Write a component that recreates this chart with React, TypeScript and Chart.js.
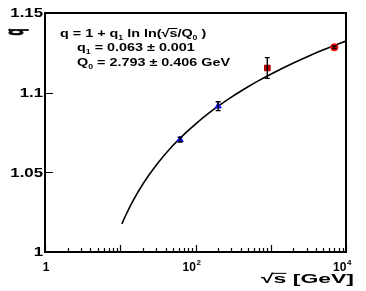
import React, { useEffect, useRef } from "react";
import { Chart, registerables } from "chart.js";

Chart.register(...registerables);

// ---- data ----
const energies = [62.4, 200, 900, 7000];
const qValues = [1.0705, 1.0915, 1.1155, 1.1285];
const qErrors = [0.0015, 0.0028, 0.0065, 0.0008];

const curveEnergies = [10.5, 12, 15, 20, 30, 50, 70, 100, 150, 200, 300, 500, 700, 1000, 2000, 3000, 5000, 7000, 10000];
const curveQ = [1.0177, 1.0237, 1.0327, 1.0427, 1.0545, 1.0668, 1.0737, 1.0803, 1.0871, 1.0915, 1.0972, 1.1037, 1.1077, 1.1116, 1.1186, 1.1224, 1.1269, 1.1296, 1.1324];

const yTickValues = [1, 1.05, 1.1, 1.15];
const yTickLabels = ["1", "1.05", "1.1", "1.15"];
const xMajorValues = [1, 10, 100, 1000, 10000];
const xLabelValues = [1, 100, 10000];
const xLabelBases = ["1", "10", "10"];
const xLabelExps = ["", "2", "4"];

const FONT = "'Liberation Sans', Arial, Helvetica, sans-serif";

type Seg = { t: string; sub?: boolean; over?: boolean };

function drawSegs(ctx: CanvasRenderingContext2D, segs: Seg[], x: number, y: number, size: number) {
  let cx = x;
  for (const s of segs) {
    const fs = s.sub ? Math.round(size * 0.62) : size;
    ctx.font = `bold ${fs}px ${FONT}`;
    const w = ctx.measureText(s.t).width;
    ctx.fillText(s.t, cx, s.sub ? y + size * 0.25 : y);
    if (s.over) {
      ctx.fillRect(cx - 0.5, y - size * 0.78, w + 0.5, 1);
    }
    cx += w;
  }
}

const decorPlugin = {
  id: "decor",
  afterDatasetsDraw(chart: any) {
    const ctx: CanvasRenderingContext2D = chart.ctx;
    const xs = chart.scales.x;
    const ys = chart.scales.y;
    ctx.save();
    ctx.strokeStyle = "#000";
    ctx.lineWidth = 1.4;
    for (let i = 0; i < energies.length; i++) {
      const px = xs.getPixelForValue(energies[i]);
      const y1 = ys.getPixelForValue(qValues[i] + qErrors[i]);
      const y2 = ys.getPixelForValue(qValues[i] - qErrors[i]);
      ctx.beginPath();
      ctx.moveTo(px, y1);
      ctx.lineTo(px, y2);
      ctx.moveTo(px - 2.5, y1);
      ctx.lineTo(px + 2.5, y1);
      ctx.moveTo(px - 2.5, y2);
      ctx.lineTo(px + 2.5, y2);
      ctx.stroke();
    }
    ctx.restore();
  },
  afterDraw(chart: any) {
    const ctx: CanvasRenderingContext2D = chart.ctx;
    const xs = chart.scales.x;
    const ys = chart.scales.y;
    const { left, right, top, bottom } = chart.chartArea;
    ctx.save();
    ctx.fillStyle = "#000";
    ctx.strokeStyle = "#000";

    // frame
    ctx.lineWidth = 2;
    ctx.strokeRect(left, top, right - left, bottom - top);

    // y ticks (inward)
    ctx.lineWidth = 1.2;
    ctx.beginPath();
    for (const v of yTickValues) {
      const py = Math.round(ys.getPixelForValue(v)) + 0.5;
      ctx.moveTo(left, py);
      ctx.lineTo(left + 8, py);
    }
    // x ticks (inward) major + minor
    for (let d = 0; d < xMajorValues.length; d++) {
      const base = xMajorValues[d];
      const px = Math.round(xs.getPixelForValue(base)) + 0.5;
      ctx.moveTo(px, bottom);
      ctx.lineTo(px, bottom - 7);
      if (d < xMajorValues.length - 1) {
        for (let m = 2; m <= 9; m++) {
          const mx = Math.round(xs.getPixelForValue(base * m)) + 0.5;
          ctx.moveTo(mx, bottom);
          ctx.lineTo(mx, bottom - 4);
        }
      }
    }
    ctx.stroke();

    // y tick labels
    ctx.textAlign = "right";
    ctx.textBaseline = "middle";
    for (let i = 0; i < yTickValues.length; i++) {
      const py = ys.getPixelForValue(yTickValues[i]);
      ctx.save();
      ctx.font = `bold 12px ${FONT}`;
      ctx.translate(left - 2, py + 1);
      ctx.scale(1.4, 1);
      ctx.fillText(yTickLabels[i], 0, 0);
      ctx.restore();
    }

    // x tick labels with exponents
    ctx.textAlign = "left";
    ctx.textBaseline = "alphabetic";
    for (let i = 0; i < xLabelValues.length; i++) {
      const px = xs.getPixelForValue(xLabelValues[i]);
      ctx.font = `bold 12px ${FONT}`;
      const wb = ctx.measureText(xLabelBases[i]).width;
      ctx.font = `bold 8px ${FONT}`;
      const we = xLabelExps[i] ? ctx.measureText(xLabelExps[i]).width : 0;
      const total = wb + we;
      const shift = xLabelExps[i] ? -4 : 1;
      const x0 = px - total / 2 + shift;
      ctx.font = `bold 12px ${FONT}`;
      ctx.fillText(xLabelBases[i], x0, bottom + 19);
      if (xLabelExps[i]) {
        ctx.font = `bold 8px ${FONT}`;
        ctx.fillText(xLabelExps[i], x0 + wb + 0.5, bottom + 13);
      }
    }

    // x title
    ctx.save();
    ctx.font = `bold 13px ${FONT}`;
    const segsX: Seg[] = [{ t: "√" }, { t: "s", over: true }, { t: " [GeV]" }];
    let wX = 0;
    for (const s of segsX) wX += ctx.measureText(s.t).width;
    const sx = 93 / wX;
    ctx.translate(261, bottom + 31);
    ctx.scale(sx, 1);
    drawSegs(ctx, segsX, 0, 0, 13);
    ctx.restore();

    // y title (rotated q)
    ctx.save();
    ctx.font = `bold 26px ${FONT}`;
    ctx.translate(18.5, 32);
    ctx.rotate(-Math.PI / 2);
    ctx.scale(0.45, 1);
    ctx.textAlign = "center";
    ctx.lineWidth = 1.2;
    ctx.fillText("q", 0, 4);
    ctx.strokeText("q", 0, 4);
    ctx.restore();

    // fit annotation
    ctx.textAlign = "left";
    const ann: [Seg[], number, number][] = [
      [[{ t: "q = 1 + q" }, { t: "1", sub: true }, { t: " ln ln(√" }, { t: "s", over: true }, { t: "/Q" }, { t: "0", sub: true }, { t: " )" }], 60, 37],
      [[{ t: "q" }, { t: "1", sub: true }, { t: " = 0.063 ± 0.001" }], 77, 51],
      [[{ t: "Q" }, { t: "0", sub: true }, { t: " = 2.793 ± 0.406 GeV" }], 77, 66],
    ];
    for (const [segs, ax, ay] of ann) {
      ctx.save();
      ctx.translate(ax, ay);
      ctx.scale(1.25, 1);
      drawSegs(ctx, segs, 0, 0, 11.5);
      ctx.restore();
    }

    ctx.restore();
  },
};

export default function App() {
  const ref = useRef<HTMLCanvasElement | null>(null);
  useEffect(() => {
    if (!ref.current) return;
    const pts = (i: number) => [{ x: energies[i], y: qValues[i] }];
    const chart = new Chart(ref.current, {
      type: "scatter",
      data: {
        datasets: [
          {
            type: "line",
            label: "fit",
            data: curveEnergies.map((x, i) => ({ x, y: curveQ[i] })),
            borderColor: "#000",
            borderWidth: 1.6,
            pointRadius: 0,
            cubicInterpolationMode: "monotone",
            fill: false,
            order: 2,
          } as any,
          {
            label: "62.4 & 200 GeV",
            data: [pts(0)[0], pts(1)[0]],
            pointStyle: "triangle",
            pointRadius: 3.6,
            backgroundColor: "#1010ff",
            borderColor: "#1010ff",
            borderWidth: 1,
            order: 1,
          },
          {
            label: "900 GeV",
            data: pts(2),
            pointStyle: "rect",
            pointRadius: 4,
            backgroundColor: "#b00000",
            borderColor: "#b00000",
            borderWidth: 1,
            order: 1,
          },
          {
            label: "7 TeV",
            data: pts(3),
            pointStyle: "circle",
            pointRadius: 3.6,
            backgroundColor: "#ff0000",
            borderColor: "#ff0000",
            borderWidth: 1,
            order: 1,
          },
        ],
      },
      options: {
        responsive: false,
        animation: false,
        devicePixelRatio: 1,
        layout: { padding: { left: 45, top: 13, right: 20, bottom: 39 } },
        scales: {
          x: { type: "logarithmic", min: 1, max: 10000, display: false },
          y: { type: "linear", min: 1, max: 1.15, display: false },
        },
        plugins: { legend: { display: false }, tooltip: { enabled: false } },
      },
      plugins: [decorPlugin],
    });
    return () => chart.destroy();
  }, []);
  return (
    <div style={{ position: "fixed", left: 0, top: 0, width: 366, height: 291, background: "#fff" }}>
      <canvas ref={ref} width={366} height={291} style={{ width: 366, height: 291 }} />
    </div>
  );
}
